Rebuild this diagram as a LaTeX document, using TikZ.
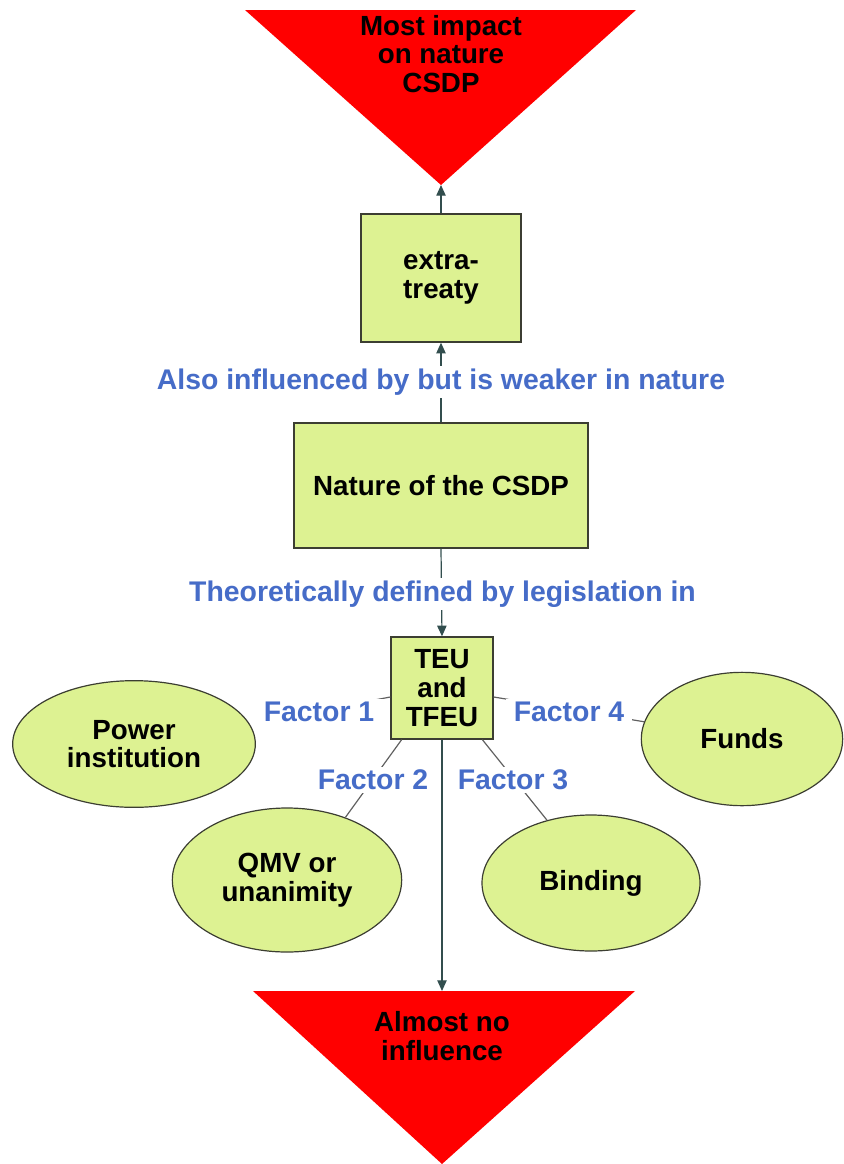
\documentclass[tikz,border=0pt]{standalone}
\usepackage{fontspec}
\setmainfont{Liberation Sans}
\usetikzlibrary{arrows.meta,shapes.geometric}
\definecolor{boxgreen}{RGB}{221,242,146}
\definecolor{edgegray}{RGB}{60,62,50}
\definecolor{labelblue}{RGB}{70,108,200}
\definecolor{arrowslate}{RGB}{50,78,78}
\definecolor{trired}{RGB}{255,0,0}
\begin{document}
\begin{tikzpicture}[x=0.75pt,y=-0.75pt,
  txt/.style={font=\fontsize{20.8}{21.5}\selectfont\bfseries, align=center, text=black},
  sqbox/.style={txt, draw=edgegray, line width=1pt, fill=boxgreen, inner sep=0pt},
  oval/.style={txt, ellipse, draw=edgegray, line width=0.9pt, fill=boxgreen, inner sep=0pt},
  lbl/.style={font=\fontsize{21.3}{22}\selectfont\bfseries, text=labelblue, fill=white, inner ysep=2pt, inner xsep=6pt},
  arr/.style={draw=arrowslate, line width=0.9pt, -{Triangle[length=8pt,width=7pt]}},
  fline/.style={draw=gray!75!black, line width=0.9pt},
  tri/.style={fill=trired}
]
\useasboundingbox (0,0) rectangle (843,1164);

% red triangles
\coordinate (topapex) at (441,185);
\fill[tri] (245,10) -- (636,10) -- (topapex) -- cycle;
\node[txt] (toptext) at (441,54) {Most impact\\on nature\\CSDP};

\coordinate (bottop) at (442,991);
\fill[tri] (253,991) -- (635,991) -- (442,1164) -- cycle;
\node[txt] (bottext) at (442,1036) {Almost no\\influence};

% boxes
\node[sqbox, minimum width=120pt, minimum height=96pt] (extra) at (441,278) {extra-\\treaty};
\node[sqbox, minimum width=220.5pt, minimum height=93.75pt] (nature) at (441,485.5) {Nature of the CSDP};
\node[sqbox, minimum width=76.5pt, minimum height=76.5pt] (teu) at (442,688) {TEU\\and\\TFEU};

% ellipses
\node[oval, minimum width=182pt, minimum height=95pt] (power) at (134,744) {Power\\institution};
\node[oval, minimum width=151pt, minimum height=100pt] (funds) at (742,739) {Funds};
\node[oval, minimum width=172pt, minimum height=108pt] (qmv) at (287,880) {QMV or\\unanimity};
\node[oval, minimum width=163.5pt, minimum height=102pt] (binding) at (591,883) {Binding};

% arrows
\draw[arr] (extra.north) -- (topapex);
\draw[arr] (nature.north) -- (extra.south);
\draw[arr] (nature.south) -- (teu.north);
\draw[arr] (teu.south) -- (bottop);

% factor connectors
\draw[fline, shorten >=12pt] ([yshift=-6.75pt]teu.west) -- (power.10);
\draw[fline] ([yshift=-6.75pt]teu.east) -- (funds.170);
\draw[fline] (teu.232) -- (qmv.47);
\draw[fline] (teu.308) -- (binding.125);

% labels
\node[lbl, inner xsep=8pt] (f1) at (319,712) {Factor 1};
\node[lbl] (l1) at (441,382) {Also influenced by but is weaker in nature};
\node[lbl] (l2) at (442.5,594) {Theoretically defined by legislation in};
\node[lbl] (f4) at (569,712) {Factor 4};
\node[lbl, inner xsep=2pt] (f2) at (373,780) {Factor 2};
\node[lbl, inner xsep=2pt] (f3) at (513,780) {Factor 3};
\end{tikzpicture}
\end{document}
